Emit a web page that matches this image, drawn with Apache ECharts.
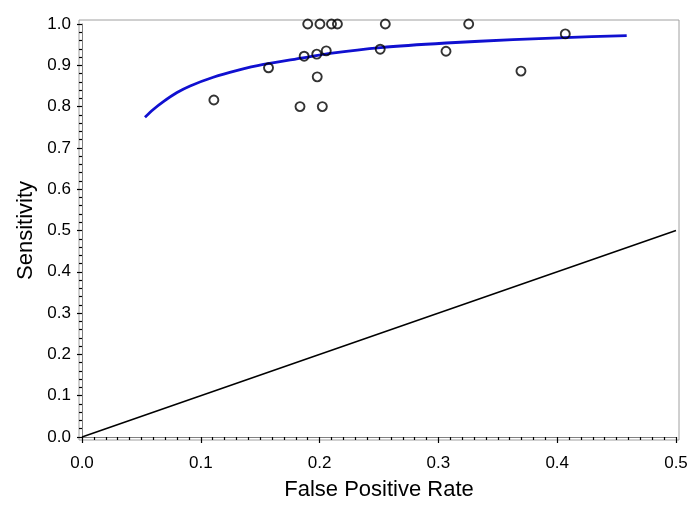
<!DOCTYPE html>
<html>
<head>
<meta charset="utf-8">
<script src="https://cdn.jsdelivr.net/npm/echarts@6/dist/echarts.min.js"></script>
<style>html,body{margin:0;padding:0;background:#fff;}#c{width:700px;height:510px;}</style>
</head>
<body>
<div id="c"></div>
<script>
// Study points (false positive rate, sensitivity)
var studyFpr  = [0.111, 0.157, 0.1835, 0.187, 0.190, 0.1976, 0.198, 0.2003, 0.2023, 0.2056, 0.210, 0.215, 0.251, 0.2553, 0.3064, 0.3255, 0.3695, 0.4068];
var studySens = [0.816, 0.894, 0.800, 0.922, 1.000, 0.927, 0.872, 1.000, 0.800, 0.935, 1.000, 1.000, 0.939, 1.000, 0.934, 1.000, 0.886, 0.976];
// SROC curve
var curveFpr  = [0.053, 0.060, 0.0685, 0.080, 0.091, 0.1105, 0.130, 0.1527, 0.186, 0.2088, 0.2514, 0.3064, 0.3628, 0.4066, 0.4585];
var curveSens = [0.774, 0.793, 0.812, 0.834, 0.850, 0.871, 0.887, 0.902, 0.918, 0.929, 0.943, 0.954, 0.962, 0.967, 0.972];
// Reference (chance) line
var refX = [0.0, 0.5];
var refY = [0.0, 0.5];
var xTitle = 'False Positive Rate';
var yTitle = 'Sensitivity';

function zip(a, b) { return a.map(function (v, i) { return [v, b[i]]; }); }

var font = 'Liberation Sans, Arial, Helvetica, sans-serif';
var chart = echarts.init(document.getElementById('c'), null, {renderer: 'canvas'});
chart.setOption({
  animation: false,
  backgroundColor: '#fff',
  grid: [
    {left: 79, right: 21, top: 20, bottom: 70, show: true, borderColor: '#a0a0a0', borderWidth: 1, backgroundColor: 'transparent'},
    {left: 82, right: 24, top: 24, bottom: 73}
  ],
  xAxis: [
    {gridIndex: 0, type: 'value', show: false, min: 0, max: 1},
    {
      gridIndex: 1, type: 'value', min: 0, max: 0.5, interval: 0.1, offset: 3,
      name: xTitle, nameLocation: 'middle', nameGap: 39,
      nameTextStyle: {fontFamily: font, fontSize: 22, color: '#000'},
      axisLine: {show: true, lineStyle: {color: '#808080', width: 1}},
      axisTick: {show: true, length: 6, lineStyle: {color: '#000', width: 1.2}},
      minorTick: {show: true, splitNumber: 10, length: 3, lineStyle: {color: '#000', width: 1.2}},
      splitLine: {show: false},
      axisLabel: {margin: 15, fontFamily: font, fontSize: 17, color: '#000', formatter: function (v) { return v.toFixed(1); }}
    }
  ],
  yAxis: [
    {gridIndex: 0, type: 'value', show: false, min: 0, max: 1},
    {
      gridIndex: 1, type: 'value', min: 0, max: 1, interval: 0.1, offset: 3,
      name: yTitle, nameLocation: 'middle', nameGap: 37, nameRotate: 90,
      nameTextStyle: {fontFamily: font, fontSize: 22, color: '#000'},
      axisLine: {show: true, lineStyle: {color: '#808080', width: 1}},
      axisTick: {show: true, length: 5, lineStyle: {color: '#000', width: 1.2}},
      minorTick: {show: true, splitNumber: 5, length: 3, lineStyle: {color: '#000', width: 1.2}},
      splitLine: {show: false},
      axisLabel: {margin: 8, fontFamily: font, fontSize: 17, color: '#000', formatter: function (v) { return v.toFixed(1); }}
    }
  ],
  series: [
    {
      type: 'line', xAxisIndex: 1, yAxisIndex: 1, data: zip(refX, refY),
      symbol: 'none', lineStyle: {color: '#000', width: 1.5}, z: 2
    },
    {
      type: 'line', xAxisIndex: 1, yAxisIndex: 1, data: zip(curveFpr, curveSens),
      symbol: 'none', smooth: 0.3, lineStyle: {color: '#1010d0', width: 2.8}, z: 3
    },
    {
      type: 'scatter', xAxisIndex: 1, yAxisIndex: 1, data: zip(studyFpr, studySens),
      symbol: 'circle', symbolSize: 9,
      itemStyle: {color: 'rgba(255,255,255,0)', borderColor: '#000', borderWidth: 1.9}, z: 4
    }
  ]
});
</script>
</body>
</html>
